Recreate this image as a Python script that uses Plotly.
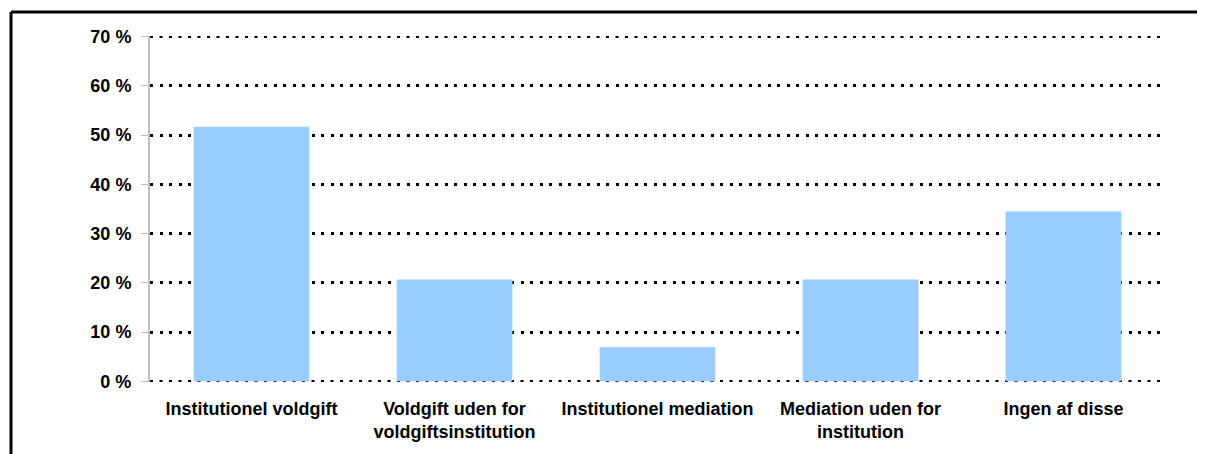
import plotly.graph_objects as go

categories = [
    "Institutionel voldgift",
    "Voldgift uden for<br>voldgiftsinstitution",
    "Institutionel mediation",
    "Mediation uden for<br>institution",
    "Ingen af disse",
]
values = [51.7, 20.7, 6.9, 20.7, 34.5]
tick_values = [0, 10, 20, 30, 40, 50, 60, 70]
tick_labels = [f"{v} %" for v in tick_values]
y_min, y_max = 0, 70

# page has an 8px body margin, so the figure is laid out relative to that
W, H = 1205, 454
OFF = 8
L, T = 150 - OFF, 36 - OFF
R = W - (1165 - OFF)
B = H - (382 - OFF)
pw, ph = W - L - R, H - T - B

fig = go.Figure(
    go.Bar(
        x=categories,
        y=values,
        marker=dict(color="#99CCFF", line=dict(width=0)),
        hoverinfo="skip",
    )
)

font = dict(family="Liberation Sans, Arial, sans-serif", size=18, color="#000000", weight="bold")
GRID_W, GRID_DASH = 2.5, "3px,6.5px"

fig.update_layout(
    width=W,
    height=H,
    margin=dict(l=L, r=R, t=T, b=B),
    paper_bgcolor="white",
    plot_bgcolor="white",
    bargap=0.43,
    showlegend=False,
    xaxis=dict(
        showgrid=False,
        showline=False,
        ticks="",
        tickfont=font,
        ticklabelstandoff=14,
    ),
    yaxis=dict(
        range=[y_min - 0.15, y_max + 0.15],
        tickvals=tick_values,
        ticktext=tick_labels,
        tickfont=font,
        showgrid=True,
        gridcolor="#000000",
        gridwidth=GRID_W,
        griddash=GRID_DASH,
        zeroline=False,
        showline=True,
        linecolor="#BFBFBF",
        linewidth=2,
        ticks="outside",
        ticklen=7,
        tickcolor="#BFBFBF",
        tickwidth=1,
        ticklabelstandoff=6,
    ),
)

# edge gridlines (Plotly drops those at the range ends)
for yv in (y_min, y_max):
    fig.add_shape(type="line", xref="paper", yref="y", x0=0, x1=1, y0=yv, y1=yv,
                  layer="below", line=dict(color="black", width=GRID_W, dash=GRID_DASH))

# outer frame (top and left edges visible)
fx = (11 - OFF - L) / pw
fy = (H - B - (12 - OFF)) / ph
fig.add_shape(type="line", xref="paper", yref="paper", x0=fx, x1=fx, y0=-1, y1=fy,
              line=dict(color="black", width=3))
fig.add_shape(type="line", xref="paper", yref="paper", x0=fx, x1=2, y0=fy, y1=fy,
              line=dict(color="black", width=3))

fig.write_html("out.html")
